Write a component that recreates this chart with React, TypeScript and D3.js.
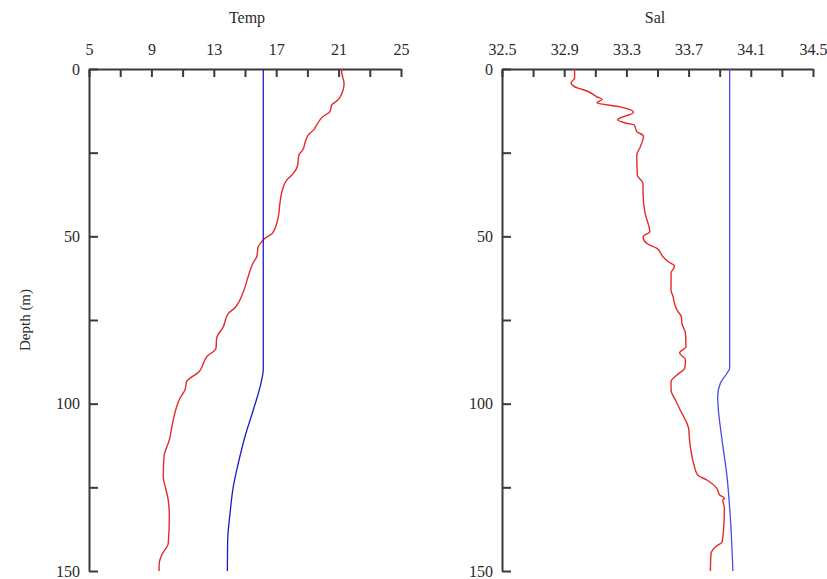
import React, { useEffect, useRef } from "react";
import * as d3 from "d3";

// depth in m
const tempDepth = [0, 1, 4.3, 8.3, 9.5, 10.8, 12.7, 14.2, 16.7, 18.2, 19.7, 21.2, 24.2, 25.7, 29.2, 31.2, 33.2, 36.1, 40.1, 44.1, 49.1, 50.6, 51.6, 53.1, 56.1, 58.1, 62.1, 67.1, 71.6, 73, 77, 80.5, 83.5, 86, 87.5, 90.4, 93.4, 95.9, 98.4, 100.9, 104.9, 110.8, 115.8, 121.8, 125.8, 128.8, 133.8, 141.7, 145.2, 147.7, 150];
const tempValues = [21.2, 21.2, 21.35, 21.1, 20.9, 20.55, 20.45, 20.0, 19.6, 19.4, 19.06, 18.9, 18.7, 18.46, 18.35, 18.1, 17.67, 17.4, 17.24, 17.14, 16.75, 16.28, 16.07, 15.85, 15.75, 15.5, 15.2, 14.85, 14.3, 13.93, 13.61, 13.18, 13.14, 12.54, 12.37, 12.07, 11.26, 11.15, 10.83, 10.62, 10.4, 10.15, 9.81, 9.76, 9.94, 10.08, 10.15, 10.08, 9.66, 9.5, 9.49];

const tempModelDepth = [0, 90, 92.9, 101.9, 109.8, 117.8, 124.8, 132.8, 140.7, 150];
const tempModelValues = [16.17, 16.17, 16.07, 15.53, 15.0, 14.57, 14.25, 14.04, 13.89, 13.87];

const salDepth = [0, 2.8, 4.1, 5.1, 6.8, 8.3, 9.1, 10.1, 11.3, 12.9, 15.2, 16.2, 16.7, 18.7, 20, 23.2, 25.7, 31.7, 34.2, 37.1, 43.1, 48.6, 50.1, 52.1, 53.6, 56.1, 57.6, 58.9, 61, 66, 68, 70.5, 72, 74, 76, 79, 83, 84.8, 86.9, 89.4, 91.4, 93.4, 95.9, 98.9, 101.9, 107.4, 110.8, 117.8, 121.3, 122.8, 125.3, 127.3, 128.3, 128.8, 131.3, 136.8, 141.3, 142.8, 144.8, 150];
const salValues = [32.967, 32.967, 32.944, 32.96, 33.057, 33.11, 33.143, 33.11, 33.26, 33.346, 33.243, 33.3, 33.35, 33.367, 33.41, 33.39, 33.367, 33.37, 33.407, 33.407, 33.42, 33.45, 33.407, 33.43, 33.497, 33.535, 33.57, 33.61, 33.587, 33.587, 33.6, 33.612, 33.625, 33.653, 33.657, 33.68, 33.683, 33.642, 33.68, 33.675, 33.625, 33.587, 33.587, 33.615, 33.646, 33.7, 33.706, 33.732, 33.758, 33.818, 33.882, 33.9, 33.93, 33.92, 33.93, 33.926, 33.915, 33.872, 33.844, 33.84];

const salModelDepth = [0, 89.4, 90.9, 93.9, 97.9, 100.9, 110.8, 121.8, 133.7, 150];
const salModelValues = [33.964, 33.964, 33.947, 33.904, 33.887, 33.89, 33.915, 33.947, 33.968, 33.985];

const tempTicks = [5, 7, 9, 11, 13, 15, 17, 19, 21, 23, 25];
const tempLabels = [5, 9, 13, 17, 21, 25];
const salTicks = [32.5, 32.7, 32.9, 33.1, 33.3, 33.5, 33.7, 33.9, 34.1, 34.3, 34.5];
const salLabels = [32.5, 32.9, 33.3, 33.7, 34.1, 34.5];
const depthTicks = [0, 25, 50, 75, 100, 125, 150];
const depthLabels = [0, 50, 100, 150];

const width = 827;
const height = 579;
const top = 69;
const bottom = 571;
const font = "'Liberation Serif', 'Times New Roman', serif";
const axisColor = "#3a3a3a";

function drawPanel(svg, opts) {
  const x = d3.scaleLinear().domain(opts.domain).range(opts.range);
  const y = d3.scaleLinear().domain([0, 150]).range([top, bottom]);

  const g = svg.append("g");

  const xAxis = d3
    .axisTop(x)
    .tickValues(opts.ticks)
    .tickSizeInner(-8)
    .tickSizeOuter(0)
    .tickPadding(14)
    .tickFormat(d => (opts.labels.some(l => Math.abs(l - d) < 1e-6) ? opts.format(d) : ""));

  const yAxis = d3
    .axisLeft(y)
    .tickValues(depthTicks)
    .tickSizeInner(-9)
    .tickSizeOuter(0)
    .tickPadding(9)
    .tickFormat(d => (depthLabels.includes(d) ? String(d) : ""));

  const gx = g.append("g").attr("transform", "translate(0," + top + ")").call(xAxis);
  const gy = g.append("g").attr("transform", "translate(" + opts.range[0] + ",0)").call(yAxis);

  [gx, gy].forEach(a => {
    a.select(".domain").attr("stroke", axisColor).attr("stroke-width", 2);
    a.selectAll(".tick line").attr("stroke", axisColor).attr("stroke-width", 2);
    a.selectAll("text")
      .attr("fill", "#2a2a2a")
      .style("font-family", font)
      .style("font-size", "16px");
  });

  g.append("text")
    .attr("x", opts.titleX)
    .attr("y", 23)
    .attr("text-anchor", "middle")
    .attr("fill", "#2a2a2a")
    .style("font-family", font)
    .style("font-size", "16px")
    .text(opts.title);

  const line = d3
    .line()
    .curve(d3.curveMonotoneY)
    .x(d => x(d[1]))
    .y(d => y(d[0]));

  g.append("path")
    .datum(d3.zip(opts.obsDepth, opts.obsValues))
    .attr("d", line)
    .attr("fill", "none")
    .attr("stroke", "#e42a2a")
    .attr("stroke-width", 1.4)
    .attr("stroke-linejoin", "round");

  g.append("path")
    .datum(d3.zip(opts.modDepth, opts.modValues))
    .attr("d", line)
    .attr("fill", "none")
    .attr("stroke", opts.modColor)
    .attr("stroke-width", 1.3);
}

export default function App() {
  const ref = useRef(null);

  useEffect(() => {
    const svg = d3.select(ref.current);
    svg.selectAll("*").remove();

    drawPanel(svg, {
      domain: [5, 25],
      range: [89, 401],
      ticks: tempTicks,
      labels: tempLabels,
      format: d3.format("d"),
      title: "Temp",
      titleX: 247,
      obsDepth: tempDepth,
      obsValues: tempValues,
      modDepth: tempModelDepth,
      modValues: tempModelValues,
      modColor: "#1c1cc4"
    });

    drawPanel(svg, {
      domain: [32.5, 34.5],
      range: [502, 813],
      ticks: salTicks,
      labels: salLabels,
      format: d3.format(".1f"),
      title: "Sal",
      titleX: 655,
      obsDepth: salDepth,
      obsValues: salValues,
      modDepth: salModelDepth,
      modValues: salModelValues,
      modColor: "#4a4aee"
    });

    svg
      .append("text")
      .attr("transform", "translate(30," + (top + bottom) / 2 + ") rotate(-90)")
      .attr("text-anchor", "middle")
      .attr("fill", "#2a2a2a")
      .style("font-family", font)
      .style("font-size", "15px")
      .text("Depth (m)");
  }, []);

  return (
    <svg
      ref={ref}
      width={width}
      height={height}
      style={{ position: "absolute", left: 0, top: 0, background: "#fff" }}
    />
  );
}
